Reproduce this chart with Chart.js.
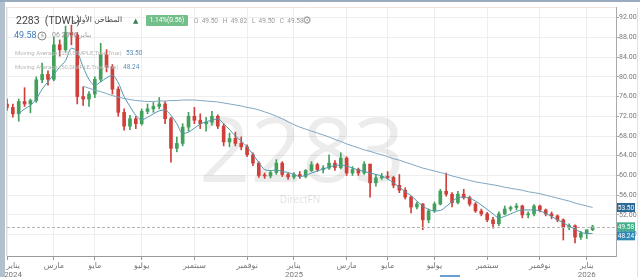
<!DOCTYPE html>
<html><head><meta charset="utf-8">
<script src="https://cdn.jsdelivr.net/npm/chart.js@4"></script>
<style>
html,body{margin:0;padding:0;background:#fff;width:640px;height:277px;overflow:hidden;font-family:Roboto,'DejaVu Sans',sans-serif;}
#wrap{position:relative;width:640px;height:277px;}
canvas{position:absolute;left:0;top:0;}
.t{position:absolute;white-space:nowrap;line-height:1;}
</style></head><body>
<div id="wrap">
<canvas id="c" width="640" height="277"></canvas>
<div style="position:absolute;left:0;top:0;width:5px;height:277px;background:#b3c0ce"></div>
<div style="position:absolute;left:0;top:0;width:640px;height:2px;background:#9aabbf"></div>
<div style="position:absolute;left:637px;top:8px;width:1px;height:269px;background:#e2e2e2"></div>
<div class="t" style="left:16px;top:16px;font-size:10.5px;color:#444">2283&nbsp; (TDWL)</div>
<div class="t" style="left:73px;top:16px;font-size:7.6px;color:#444;font-family:'DejaVu Sans',sans-serif"><bdi>المطاحن الأولى</bdi></div>
<div class="t" style="left:133px;top:18px;font-size:7px;color:#3c7d5a">▲</div>
<div class="t" style="left:146px;top:15px;width:42px;height:11px;background:#72bf8a;color:#fff;font-size:6.5px;line-height:11px;text-align:center;border-radius:1px">1.14%(0.56)</div>
<div class="t" style="left:194px;top:18px;font-size:6.5px;color:#999">O&nbsp; 49.50&nbsp;&nbsp; H&nbsp; 49.82&nbsp;&nbsp; L&nbsp; 49.50&nbsp;&nbsp; C&nbsp; 49.58</div>
<div class="t" style="left:302px;top:15px;font-size:11px;color:#999">⚙</div>
<div class="t" style="left:14px;top:31px;font-size:9px;color:#3d7ab8">49.58</div>
<svg style="position:absolute;left:37px;top:31px" width="10" height="10"><circle cx="5" cy="5" r="4" fill="none" stroke="#888" stroke-width="1"/><path d="M5 2.5V5H7" fill="none" stroke="#888" stroke-width="0.8"/></svg>
<div class="t" style="left:52px;top:32px;font-size:7px;color:#999">06 2026 يناير</div>
<div class="t" style="left:15px;top:50px;font-size:6px;color:#b8b8b8">Moving Average (200,SIMPLE,True,True)</div>
<div class="t" style="left:126px;top:50px;font-size:6.5px;color:#5b8fb8">53.50</div>
<div class="t" style="left:15px;top:64px;font-size:6px;color:#b8b8b8">Moving Average (50,SIMPLE,True,True)</div>
<div class="t" style="left:123px;top:64px;font-size:6.5px;color:#5b8fb8">48.24</div>
<div style="position:absolute;left:440px;top:275px;width:20px;height:2px;background:#6a9fd0"></div>
</div>
<script>
// ---- data (weekly candles) ----
const symbol = '2283';
const firstWeek = '2024-01-07';
const closedWeeks = ['2024-04-07','2024-06-16','2025-03-30','2025-06-08'];
const monthNames = ['يناير','فبراير','مارس','أبريل','مايو','يونيو','يوليو','أغسطس','سبتمبر','أكتوبر','نوفمبر','ديسمبر'];
const yTicks = [48,52,56,60,64,68,72,76,80,84,88,92];

const opens = [74.5,73.8,72.5,75,74.5,75.2,79.4,80.5,79.5,86.5, 85.5,89,88.5,76,75.5,76.5,79.5,84.5,82,77.5, 72.8,70,71.5,70.5,73,73.5,74,74.5,71.5,65.5, 66.5,69.8,72,71.2,70.5,70.8,72,70,66.8,67.5, 66.5,65.8,64.2,62.5,60,59.9,60.6,62.5,60.2,59.7, 60.2,59.8,61,62.2,61.2,61.5,62.5,61.6,63.5,60.5, 61.2,60.5,62.3,58.5,59.5,59.8,59.6,58,57,55.6, 53.6,54.2,51,52.8,54.2,56.8,56.2,54.5,56.2,55.5, 54.2,52.8,52.2,51,50.2,52.2,53.2,53.5,53.8,52, 52.2,53.8,53,52.2,51.8,51,49.5,49.8,47.5,48.3, 49];
const highs = [75.5,74.5,75.5,77.8,75.5,80,82.8,81.2,88,87.5, 90.3,90.5,89,78,77,80,86.8,85.5,82.5,78, 73.5,72.2,72,73.5,74.5,74.8,75.8,75,71.8,67.8, 70.5,72.8,73.8,72.5,71.8,73,72.3,70.5,68.6,68.8, 67.8,66.2,64.6,62.8,60.5,61,63.2,62.8,60.5,60.6, 60.8,61.2,62.8,62.5,62,64.2,63,64.6,63.8,61.8, 61.5,62.8,62.3,60.2,60.4,60.8,59.8,60.2,57.5,55.8, 54.6,54.3,53.2,54.6,57.2,60.5,56.5,56.8,57.2,55.8, 54.5,53.2,52.5,51.5,52.6,53.8,53.8,54.3,54,52.6, 54.1,54,53.2,52.6,52,51.2,50.2,50,48.6,48.8, 49.9];
const lows = [73.2,71.8,71,74,72.7,74.8,78.8,78.3,79.2,84.2, 85,86.5,74.5,74.2,74,75.8,79,81,76.5,72, 69.2,69.3,69.5,70.2,72.5,72.8,73.5,70.5,62.7,64.8, 66,69,70.5,69.5,69,70.2,69.5,66,65.8,66, 65.2,63.8,62,59.6,59.4,59.5,60.2,59.8,59.2,59.3, 59.4,59.5,60.8,60.8,60.5,61.2,61,61.3,60,60, 60,60.2,55.6,57.8,59.2,59.3,57.5,56.5,55.2,52.4, 53.2,49,50.4,52.5,54,55.8,53.6,54.2,55.2,53.8, 52.5,51.8,50.6,49.3,49.8,52,52.8,53,51.4,51.4, 51.8,52.6,51.8,51.2,50.6,46.9,49,46.3,47,47.2, 48.8];
const closes = [73.8,72.5,75,74.5,75.2,79.4,80.5,79.5,86.5,85.5, 89,88.5,76,75.5,76.5,79.5,84.5,82,77.5,72.8, 70,71.5,70.5,73,73.5,74,74.5,71.5,65.5,66.5, 69.8,72,71.2,70.5,70.8,72,70,66.8,67.5,66.5, 65.8,64.2,62.5,60,59.9,60.6,62.5,60.2,59.7,60.2, 59.8,61,62.2,61.2,61.5,62.5,61.6,63.5,60.5,61.2, 60.5,62.3,58.5,59.5,59.8,59.6,58,57,55.6,53.6, 54.2,51,52.8,54.2,56.8,56.2,54.5,56.2,55.5,54.2, 52.8,52.2,51,50.2,52.2,53.2,53.5,53.8,52,52.2, 53.8,53,52.2,51.8,51,49.5,49.8,47.5,48.3,49, 49.58];
const maShort = [null,null,72.5,73.5,74.2,75.5,77.5,79,80.5,82, 83.3,85.8,85,82,79.5,78.3,79,79.8,80.3,78.8, 76,74,72.2,71.3,71.8,72.5,73.1,73.3,72.2,70.5, 68.5,68.8,69.6,70.4,70.9,71.2,71.5,70.5,69.3,68, 67,65.8,64.3,62.6,61.2,61,61.1,60.8,60.6,60.2, 59.8,60,60.5,60.9,61.3,61.7,62,62.1,61.9,61.5, 61.1,60.8,60.5,60.2,59.9,59.3,58.5,57.6,56.7,55.9, 54.8,53.8,53.1,52.8,52.9,53.7,54.7,55.5,55.6,55.4, 54.8,54,53.1,52.2,51.4,51.7,52.2,52.7,53,53, 53,52.8,52.3,51.7,51,50.4,49.7,49.1,48.5,48.2, 48.24];
const maLong = [null,null,null,null,null,null,null,null,null,null, null,null,null,78.1,77.7,77.3,77,76.6,76.2,75.9, 75.6,75.4,75.2,75.1,75,75,75.1,75.1,75.2,75.2, 75.3,75.3,75.3,75.2,75.1,75,74.9,74.7,74.5,74.3, 74.1,73.8,73.6,73.3,72.9,72.5,72,71.5,70.9,70.3, 69.8,69.4,69,68.6,68.2,67.8,67.3,66.9,66.4,66, 65.6,65.2,64.9,64.5,64.2,63.8,63.4,63.1,62.7,62.3, 61.9,61.5,61.2,60.9,60.6,60.3,59.9,59.6,59.3,59, 58.7,58.5,58.3,58.1,57.9,57.6,57.4,57.2,57,56.7, 56.5,56.3,56,55.7,55.4,55.1,54.8,54.4,54.1,53.8, 53.5];
const padWeeks = 4;

// ---- categories: trading weeks ----
const weeks = [];
{
  let d = new Date(firstWeek + 'T00:00:00Z');
  while (weeks.length < closes.length) {
    const s = d.toISOString().slice(0,10);
    if (!closedWeeks.includes(s)) weeks.push(s);
    d = new Date(d.getTime() + 7*86400000);
  }
}
const labels = weeks.concat(Array(padWeeks).fill(''));
const tickIdx = [];
let prevM = -1;
weeks.forEach((w,i)=>{
  const thu = new Date(new Date(w+'T00:00:00Z').getTime() + 4*86400000);
  const m = thu.getUTCMonth();
  if (i===0 || (m!==prevM && m%2===0)) tickIdx.push(i);
  prevM = m;
});
function tickLabel(i){
  const w = weeks[i]; if(!w) return '';
  const thu = new Date(new Date(w+'T00:00:00Z').getTime() + 4*86400000);
  const m = thu.getUTCMonth();
  const pad = i===0 ? '\u2002\u2002\u2002' : '';
  if (m===0) return [pad+monthNames[m], pad+String(thu.getUTCFullYear())];
  return monthNames[m];
}

const UP='#43a05c', DOWN='#cf403a';
const cols = closes.map((c,i)=> c>=opens[i] ? UP : DOWN);

const deco = {
  id:'deco',
  beforeDatasetsDraw(chart){
    const {ctx, chartArea:a} = chart;
    ctx.save();
    ctx.fillStyle='rgba(0,0,0,0.075)';
    ctx.font='90px "Open Sans"';
    ctx.textAlign='center'; ctx.textBaseline='alphabetic';
    ctx.fillText(symbol, a.left+295, a.top+175);
    ctx.font='10px "Open Sans"'; ctx.fillStyle='rgba(0,0,0,0.13)';
    ctx.fillText('DirectFN', a.left+293, a.top+196);
    ctx.restore();
  },
  afterDatasetsDraw(chart){
    const {ctx, chartArea:a, scales:{y}} = chart;
    const yy = Math.round(y.getPixelForValue(closes[closes.length-1]))+0.5;
    ctx.save();
    ctx.strokeStyle='#b5b5b5'; ctx.lineWidth=1; ctx.setLineDash([3,2]);
    ctx.beginPath(); ctx.moveTo(a.left,yy); ctx.lineTo(a.right,yy); ctx.stroke();
    ctx.restore();
  },
  afterDraw(chart){
    const {ctx, chartArea:a, scales:{y}} = chart;
    ctx.save();
    ctx.strokeStyle='#f0e2dc'; ctx.lineWidth=1;
    ctx.beginPath(); ctx.moveTo(a.left, a.top+0.5); ctx.lineTo(a.right, a.top+0.5); ctx.stroke();
    ctx.strokeStyle='#dcdcdc';
    ctx.beginPath(); ctx.moveTo(a.left-0.5, a.top); ctx.lineTo(a.left-0.5, a.bottom); ctx.stroke();
    const boxes = [
      {v: maLong[maLong.length-1], c:'#2b6b98'},
      {v: closes[closes.length-1], c:'#44b089'},
      {v: maShort[maShort.length-1], c:'#2f88b6'}
    ].map(b=>({...b, y:y.getPixelForValue(b.v)})).sort((p,q)=>p.y-q.y);
    const h=9; let prevBottom=-1e9;
    ctx.font='6.5px Roboto'; ctx.textAlign='center'; ctx.textBaseline='middle';
    boxes.forEach(b=>{
      let top = b.y - h/2;
      if (top < prevBottom) top = prevBottom;
      prevBottom = top + h;
      ctx.fillStyle=b.c; ctx.fillRect(a.right+1, top, 18, h);
      ctx.fillStyle='#fff'; ctx.fillText(b.v.toFixed(2), a.right+10, top+h/2+0.5);
    });
    ctx.restore();
  }
};

new Chart(document.getElementById('c'), {
  type:'bar',
  data:{ labels, datasets:[
    {type:'line', data:maLong, borderColor:'#7fa7c3', borderWidth:1, pointRadius:0, cubicInterpolationMode:'monotone', order:0},
    {type:'line', data:maShort, borderColor:'#4e98ae', borderWidth:1, pointRadius:0, cubicInterpolationMode:'monotone', order:0},
    {data: lows.map((l,i)=>[l,highs[i]]), backgroundColor:cols, barThickness:1, grouped:false, order:2},
    {data: opens.map((o,i)=>[o,closes[i]]), backgroundColor:cols, barThickness:3, grouped:false, minBarLength:1, order:1}
  ]},
  options:{
    responsive:false, animation:false, events:[],
    layout:{padding:{left:7, top:7, right:0, bottom:0}},
    plugins:{legend:{display:false}, tooltip:{enabled:false}},
    scales:{
      x:{
        offset:false,
        afterFit:s=>{s.height=21; s.paddingLeft=0; s.paddingRight=0;},
        afterBuildTicks:s=>{s.ticks = tickIdx.map(v=>({value:v}));},
        ticks:{autoSkip:false, maxRotation:0, minRotation:0, font:{size:8, family:"Roboto, 'DejaVu Sans', sans-serif"}, color:'#777', padding:1, callback:v=>tickLabel(v)},
        grid:{offset:false, color:'#eeeeee', tickColor:'#999', tickLength:4, drawTicks:true},
        border:{color:'#9a9a9a'}
      },
      y:{
        position:'right', min:43.66, max:94.17,
        afterFit:s=>{s.width=24; s.paddingTop=0; s.paddingBottom=0;},
        afterBuildTicks:s=>{s.ticks = yTicks.map(v=>({value:v}));},
        ticks:{font:{size:7, family:'Roboto'}, color:'#777', padding:0, callback:v=>Number(v).toFixed(2)},
        grid:{color:'#eeeeee', tickColor:'#aaa', tickLength:3},
        border:{color:'#aaa'}
      }
    }
  },
  plugins:[deco]
});
</script>
</body></html>
